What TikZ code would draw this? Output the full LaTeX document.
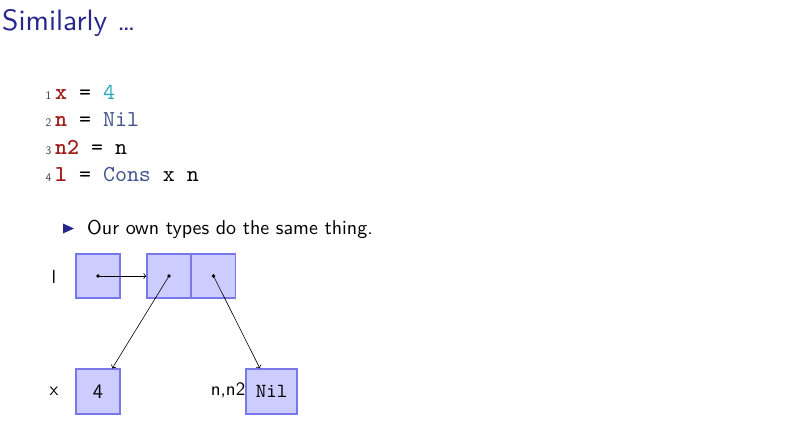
\documentclass[tikz,border=0pt]{standalone}
\usepackage{fontspec}
\setsansfont{lmsans10-regular.otf}
\setmonofont{lmmono10-regular.otf}[BoldFont=lmmonolt10-bold.otf]
\usetikzlibrary{arrows.meta}
\definecolor{titleblue}{RGB}{38,38,140}
\definecolor{kwred}{RGB}{160,28,20}
\definecolor{numteal}{RGB}{40,165,185}
\definecolor{conblue}{RGB}{65,85,140}
\definecolor{boxfill}{RGB}{204,204,255}
\definecolor{boxdraw}{RGB}{120,120,235}
\tikzset{
  cell/.style={draw=boxdraw, fill=boxfill, line width=1.1pt, minimum width=44pt, minimum height=44pt, inner sep=0pt},
  lbl/.style={font=\sffamily\fontsize{19}{22}\selectfont, inner sep=0pt},
  codeline/.style={anchor=base west, inner sep=0pt, font=\ttfamily\fontsize{22.8}{26}\selectfont},
  lnum/.style={anchor=base east, inner sep=0pt, font=\sffamily\fontsize{11.5}{14}\selectfont, text=black!75},
  ptr/.style={line width=0.6pt, -{To[length=3pt,width=6pt]}},
  dotmark/.style={circle, fill=black, inner sep=0pt, minimum size=3.6pt}
}
\begin{document}
\begin{tikzpicture}[x=1pt,y=-1pt]
\useasboundingbox (0,0) rectangle (805,437);
% title
\node[anchor=base west, inner sep=0pt, text=titleblue, font=\sffamily\fontsize{29.5}{34}\selectfont] (title) at (2,30) {Similarly \dots};
% code
\node[lnum] (n1) at (51.5,99) {1};
\node[codeline] (c1l) at (55,99) {\textcolor{kwred}{\bfseries x} = \textcolor{numteal}{4}};
\node[lnum] (n2) at (51.5,126.5) {2};
\node[codeline] (c2l) at (55,126.5) {\textcolor{kwred}{\bfseries n} = \textcolor{conblue}{Nil}};
\node[lnum] (n3) at (51.5,154) {3};
\node[codeline] (c3l) at (55,154) {\textcolor{kwred}{\bfseries n2} = n};
\node[lnum] (n4) at (51.5,181.5) {4};
\node[codeline] (c4l) at (55,181.5) {\textcolor{kwred}{\bfseries l} = \textcolor{conblue}{Cons} x n};
% bullet
\node[anchor=base west, inner sep=0pt, font=\sffamily\fontsize{20}{24}\selectfont] (bul) at (87,234) {Our own types do the same thing.};
\fill[titleblue] (63,223.5) -- (74,228.5) -- (63,233.5) -- cycle;
% diagram
\node[cell] (lbox) at (98,276) {};
\node[cell] (ca) at (169,276) {};
\node[cell] (cb) at (213.5,276) {};
\node[cell, minimum height=45pt] (four) at (98,391.5) {\sffamily\fontsize{20.5}{24}\selectfont 4};
\node[cell, minimum width=51pt, minimum height=45pt] (nil) at (271.5,391.5) {\ttfamily\fontsize{20}{24}\selectfont Nil};
\node[lbl] (ll) at (54,276.5) {l};
\node[lbl] (lx) at (54,391.5) {x};
\node[lbl, anchor=east] (ln) at (245.5,390.5) {n,n2};
\draw[ptr] (lbox.center) -- (ca.west);
\draw[ptr] (ca.center) -- (four);
\draw[ptr] (cb.center) -- (nil);
\node[dotmark] (d1) at (lbox.center) {};
\node[dotmark] (d2) at (ca.center) {};
\node[dotmark] (d3) at (cb.center) {};
\end{tikzpicture}
\end{document}
